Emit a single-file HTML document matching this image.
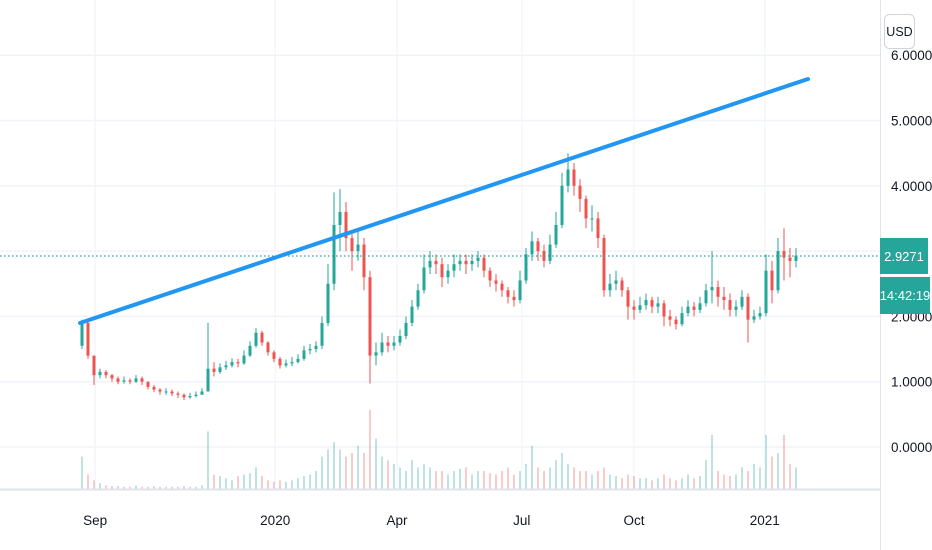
<!DOCTYPE html>
<html><head><meta charset="utf-8">
<style>
html,body{margin:0;padding:0;background:#fff;}
svg{display:block;font-family:"Liberation Sans",sans-serif;}
</style></head>
<body>
<svg id="chart" width="932" height="550" viewBox="0 0 932 550">
<g id="grid"></g>
<g id="vol"></g>
<g id="candles"></g>
<line x1="0" y1="256" x2="880" y2="256" stroke="#26a69a" stroke-width="1.2" stroke-dasharray="1.5,2.5"/>
<line x1="80" y1="323" x2="808" y2="79" stroke="#2196f3" stroke-width="4" stroke-linecap="round"/>
<line x1="0" y1="489.5" x2="880" y2="489.5" stroke="#e0e3eb" stroke-width="2"/>
<line x1="880.5" y1="0" x2="880.5" y2="550" stroke="#e0e3eb" stroke-width="1"/>
<g id="yticks"></g>
<g id="xticks"></g>
<rect x="884.5" y="14.5" width="30" height="34" rx="5" fill="#fff" stroke="#d1d4dc"/>
<text x="899.5" y="36" text-anchor="middle" font-size="12.5" fill="#131722">USD</text>
<rect x="880" y="238" width="48" height="36" fill="#26a69a"/>
<text x="904" y="261" text-anchor="middle" font-size="13" fill="#fff">2.9271</text>
<rect x="880" y="277" width="50" height="37" fill="#26a69a"/>
<text x="905" y="300" text-anchor="middle" font-size="13" fill="#fff">14:42:19</text>
</svg>
<script>
const closes=[1.90,1.40,1.10,1.15,1.10,1.05,1.00,1.02,1.00,1.05,1.00,0.92,0.88,0.85,0.85,0.82,0.80,0.76,0.78,0.80,
0.85,1.20,1.15,1.22,1.25,1.30,1.28,1.40,1.55,1.75,1.60,1.45,1.35,1.25,1.28,1.30,1.35,1.48,1.50,1.55,
1.90,2.50,3.40,3.60,3.20,3.00,3.10,2.60,1.40,1.45,1.60,1.55,1.60,1.70,1.90,2.15,2.40,2.75,2.85,2.80,
2.60,2.70,2.80,2.85,2.80,2.85,2.90,2.70,2.55,2.50,2.40,2.30,2.25,2.55,2.95,3.15,3.00,2.85,3.10,3.40,
4.00,4.25,4.00,3.80,3.50,3.50,3.20,2.40,2.50,2.55,2.40,2.15,2.10,2.17,2.25,2.15,2.20,2.00,1.95,1.88,
2.05,2.15,2.10,2.20,2.40,2.45,2.30,2.25,2.10,2.15,2.30,1.95,2.00,2.05,2.70,2.40,3.00,2.90,2.85,2.93];
const highs=[1.95,1.95,1.40,1.20,1.18,1.12,1.08,1.08,1.05,1.10,1.08,1.00,0.95,0.90,0.90,0.88,0.85,0.82,0.83,0.85,
0.90,1.90,1.30,1.28,1.32,1.36,1.35,1.48,1.62,1.82,1.78,1.62,1.48,1.38,1.34,1.38,1.42,1.55,1.58,1.62,
2.00,2.80,3.90,3.95,3.75,3.30,3.35,3.20,2.70,1.60,1.75,1.70,1.70,1.80,2.00,2.25,2.50,2.95,3.00,2.95,
2.90,2.80,2.95,2.95,2.95,2.95,3.00,2.95,2.75,2.65,2.55,2.45,2.40,2.70,3.05,3.30,3.20,3.10,3.25,3.60,
4.20,4.50,4.35,4.10,3.85,3.70,3.60,3.25,2.65,2.70,2.60,2.45,2.25,2.30,2.35,2.30,2.30,2.25,2.10,2.00,
2.15,2.25,2.22,2.30,2.50,3.00,2.55,2.45,2.35,2.25,2.40,2.35,2.10,2.15,2.95,2.85,3.20,3.35,3.05,3.05];
const lows=[1.50,1.35,0.95,1.05,1.05,1.00,0.96,0.97,0.96,0.98,0.95,0.88,0.84,0.80,0.80,0.78,0.75,0.72,0.74,0.76,
0.80,0.85,1.08,1.12,1.18,1.22,1.22,1.26,1.38,1.52,1.55,1.40,1.30,1.20,1.22,1.24,1.28,1.32,1.42,1.45,
1.50,1.85,2.40,3.00,3.00,2.70,2.85,2.40,0.97,1.25,1.40,1.45,1.48,1.55,1.65,1.85,2.10,2.35,2.65,2.65,
2.45,2.50,2.60,2.70,2.65,2.70,2.75,2.60,2.45,2.38,2.30,2.20,2.15,2.20,2.50,2.85,2.85,2.75,2.80,3.05,
3.35,3.90,3.85,3.60,3.35,3.30,3.05,2.30,2.30,2.40,2.30,1.95,1.95,2.05,2.10,2.05,2.05,1.85,1.85,1.80,
1.85,2.00,2.00,2.05,2.15,2.20,2.15,2.10,2.00,2.00,2.10,1.60,1.90,1.95,2.00,2.20,2.35,2.55,2.60,2.75];
const volumes=[45,20,12,8,5,4,4,3,3,5,3,3,4,3,3,3,3,4,3,3,
5,80,20,18,15,12,18,20,22,30,18,12,10,12,10,12,15,18,20,25,
45,55,65,55,45,50,60,50,110,70,45,40,35,30,25,40,30,35,30,25,
25,20,25,28,30,20,25,25,22,20,25,30,20,25,35,60,30,25,30,40,
50,35,30,25,25,20,25,30,20,18,15,20,18,15,15,12,15,20,15,12,
15,20,15,18,40,75,25,20,18,20,30,25,35,30,75,45,50,75,35,30];
const tickVals=[0,1,2,3,4,5,6];
const tickLabels=["0.0000","1.0000","2.0000","3.0000","4.0000","5.0000","6.0000"];
const dateLabels=["Sep","2020","Apr","Jul","Oct","2021"];
const dateIdx=[2.2,32.2,52.5,73.3,92,113.8];

const NS="http://www.w3.org/2000/svg";
const yS=v=>447-65.3*v;
const xS=i=>82+i*6;
const vS=v=>v*0.72;
function mk(t,a,p){const e=document.createElementNS(NS,t);for(const k in a)e.setAttribute(k,a[k]);p.appendChild(e);return e;}
const grid=document.getElementById('grid'),yt=document.getElementById('yticks'),xt=document.getElementById('xticks');
tickVals.forEach((v,i)=>{
  const l=mk('line',{x1:0,x2:880,y1:yS(v),y2:yS(v),stroke:'#f0f3fa','stroke-width':1.5},grid);
  
  
  if(v===3)return;
  const t=mk('text',{x:891,y:yS(v)+5,'font-size':13.5,fill:'#131722'},yt);
  t.textContent=tickLabels[i];
  
  
});
dateLabels.forEach((d,i)=>{
  const x=xS(dateIdx[i]);
  const l=mk('line',{x1:x,x2:x,y1:0,y2:489,stroke:'#f0f3fa','stroke-width':1.2},grid);
  
  
  const t=mk('text',{x:x,y:525,'font-size':13.5,fill:'#131722','text-anchor':'middle'},xt);
  t.textContent=d;
  
  
});
const cg=document.getElementById('candles'),vg=document.getElementById('vol');
closes.forEach((c,i)=>{
  const o=i===0?1.55:closes[i-1];
  const up=c>=o, col=up?'#26a69a':'#ef5350';
  const x=xS(i);
  const v=mk('rect',{x:x-1,y:489-vS(volumes[i]),width:2,height:vS(volumes[i]),fill:up?'rgba(38,166,154,0.3)':'rgba(239,83,80,0.3)'},vg);
  
  
  const w=mk('line',{x1:x,x2:x,y1:yS(highs[i]),y2:yS(lows[i]),stroke:col,'stroke-width':1},cg);
  
  
  const top=yS(Math.max(o,c)),h=Math.max(1,Math.abs(yS(o)-yS(c)));
  const b=mk('rect',{x:x-1.5,y:top,width:3,height:h,fill:col},cg);
  
  
});
</script>
</body></html>
